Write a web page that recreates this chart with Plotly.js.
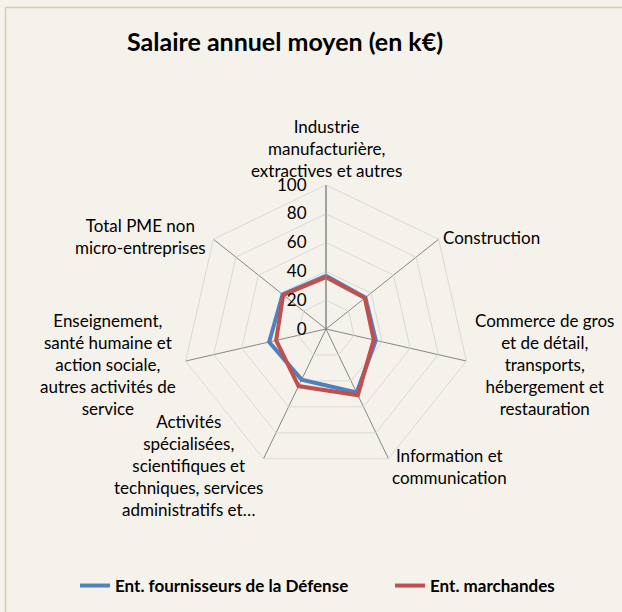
<!DOCTYPE html>
<html>
<head>
<meta charset="utf-8">
<script src="https://cdn.plot.ly/plotly-3.0.1.min.js"></script>
<style>html,body{margin:0;padding:0;background:#F5F2EB;}#chart{width:622px;height:612px;}</style>
</head>
<body>
<div id="chart"></div>
<script>
const categories = [
  "Industrie<br>manufacturière,<br>extractives et autres",
  "Construction",
  "Commerce de gros<br>et de détail,<br>transports,<br>hébergement et<br>restauration",
  "Information et<br>communication",
  "Activités<br>spécialisées,<br>scientifiques et<br>techniques, services<br>administratifs et…",
  "Enseignement,<br>santé humaine et<br>action sociale,<br>autres activités de<br>service",
  "Total PME non<br>micro-entreprises"
];
const seriesNames = ["Ent. fournisseurs de la Défense", "Ent. marchandes"];
const defense = [37, 35, 35.5, 49, 39, 40.5, 38.5];
const marchandes = [36, 34.5, 34, 51, 44, 35.5, 38];
const radialTicks = [0, 20, 40, 60, 80, 100];

const close = a => a.concat([a[0]]);
const theta = close(categories);

const traces = [
  {type: "scatterpolar", mode: "lines", name: seriesNames[0], r: close(defense), theta: theta,
   line: {color: "#4F81BD", width: 4}, hoverinfo: "r+name", legend: "legend"},
  {type: "scatterpolar", mode: "lines", name: seriesNames[1], r: close(marchandes), theta: theta,
   line: {color: "#C0504D", width: 4}, hoverinfo: "r+name", legend: "legend2"}
];

const cx = 326, cy = 329, R = 144, W = 622, H = 612;
const FONT = "Lato, 'Liberation Sans', sans-serif";
const PAD = "\u00a0\u00a0\u00a0";

// label placement (pixel anchors, layout only)
const labelPos = [
  {x: 326, y: 148, xa: "center", ya: "middle"},
  {x: 441, y: 238, xa: "left", ya: "middle"},
  {x: 544, y: 364, xa: "center", ya: "middle"},
  {x: 449, y: 466, xa: "center", ya: "middle"},
  {x: 188, y: 465, xa: "center", ya: "middle"},
  {x: 108, y: 364, xa: "center", ya: "middle"},
  {x: 140, y: 237, xa: "center", ya: "middle"}
];
const annotations = categories.map((c, i) => ({
  text: c, xref: "paper", yref: "paper",
  x: labelPos[i].x / W, y: 1 - labelPos[i].y / H,
  xanchor: labelPos[i].xa, yanchor: labelPos[i].ya, align: "center",
  showarrow: false, font: {size: 17, family: FONT, color: "#000"}
}));

const legendBase = {orientation: "h", xanchor: "left", y: 1 - 586 / H, yanchor: "middle",
  font: {size: 17, color: "#000", family: FONT, weight: "bold"}, bgcolor: "rgba(0,0,0,0)"};

const layout = {
  width: W, height: H,
  margin: {l: 0, r: 0, t: 0, b: 0},
  paper_bgcolor: "#F5F2EB",
  plot_bgcolor: "#F5F2EB",
  font: {family: FONT, size: 17, color: "#000"},
  title: {text: "<b>Salaire annuel moyen (en k€)</b>", x: 127 / W, xanchor: "left", y: 1 - 42 / H, yanchor: "middle",
          font: {size: 25, family: FONT, color: "#000"}},
  showlegend: true,
  legend: Object.assign({}, legendBase, {x: 75 / W}),
  legend2: Object.assign({}, legendBase, {x: 390 / W}),
  annotations: annotations,
  polar: {
    domain: {x: [(cx - R) / W, (cx + R) / W], y: [(H - cy - R) / H, (H - cy + R) / H]},
    bgcolor: "#F5F2EB",
    gridshape: "linear",
    radialaxis: {
      range: [0, 100], tickvals: radialTicks, ticktext: radialTicks.map(v => String(v) + PAD),
      angle: 90, tickangle: 90, side: "counterclockwise",
      showline: true, linecolor: "#868686", linewidth: 1,
      gridcolor: "#D9D9D9", gridwidth: 1, ticks: "",
      tickfont: {size: 17, color: "#000"}
    },
    angularaxis: {
      rotation: 90, direction: "clockwise",
      showline: true, linecolor: "#D9D9D9", linewidth: 1,
      gridcolor: "#868686", gridwidth: 1, ticks: "", showticklabels: false
    }
  },
  shapes: [
    {type: "line", xref: "paper", yref: "paper", x0: 5 / W, x1: 1, y0: 1 - 7.5 / H, y1: 1 - 7.5 / H,
     line: {color: "#D4CDA6", width: 1.5}},
    {type: "line", xref: "paper", yref: "paper", x0: 5.5 / W, x1: 5.5 / W, y0: 0, y1: 1 - 7 / H,
     line: {color: "#D4CDA6", width: 1.5}}
  ]
};

Plotly.newPlot("chart", traces, layout, {displayModeBar: false});
</script>
</body>
</html>
